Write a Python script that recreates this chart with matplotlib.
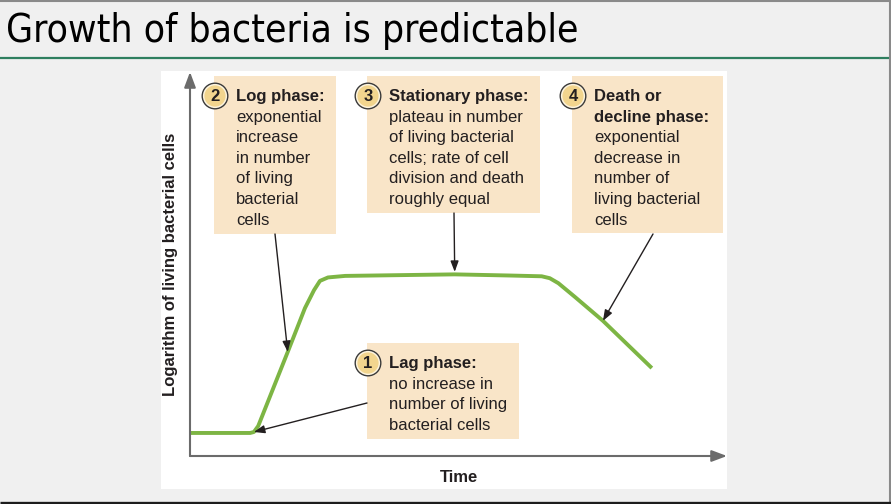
import matplotlib
matplotlib.use("Agg")
import matplotlib.pyplot as plt
from matplotlib.patches import Rectangle, Circle
from matplotlib import font_manager as fm

# ---------------- data ----------------
time = [0, 1.12, 1.19, 1.27, 1.82, 2.14, 2.31, 2.42, 2.57, 2.89, 3.91, 4.93,
        5.96, 6.55, 6.70, 6.86, 7.17, 7.69, 8.60]
log_cells = [0.60, 0.60, 0.625, 0.78, 2.71, 3.85, 4.32, 4.56, 4.65, 4.69, 4.71,
             4.73, 4.70, 4.68, 4.63, 4.50, 4.14, 3.52, 2.29]

title = "Growth of bacteria is predictable"
x_label = "Time"
y_label = "Logarithm of living bacterial cells"

phase_numbers = ["1", "2", "3", "4"]
phase_titles = [["Lag phase:"], ["Log phase:"], ["Stationary phase:"],
                ["Death or", "decline phase:"]]
phase_texts = [
    ["no increase in", "number of living", "bacterial cells"],
    ["exponential", "increase", "in number", "of living", "bacterial", "cells"],
    ["plateau in number", "of living bacterial", "cells; rate of cell",
     "division and death", "roughly equal"],
    ["exponential", "decrease in", "number of", "living bacterial", "cells"],
]
phase_point = [2, 4, 11, 17]   # curve point each phase arrow points to

# ---------------- layout (pixels) ----------------
W, H = 891, 504
box_rects = [(367, 343, 519, 439), (214, 76, 336, 234),
             (367, 76, 540, 213), (572, 76, 723, 233)]
first_line_y = [362, 95, 95, 95]
text_x_off = 22
line_step = 20.6
arrow_tails = [(367, 403), (275, 234), (454, 213), (653, 234)]
arrow_shrink = [0, 0, 1.8, 0]

BG = "#f0f0f0"
BOX = "#f9e5c8"
GREEN = "#7db544"
AXIS = "#6b6b6b"
INK = "#231f20"

fig = plt.figure(figsize=(W / 100, H / 100), dpi=100, facecolor=BG)

# background / overlay axes in pixel coordinates
bg = fig.add_axes([0, 0, 1, 1], zorder=0)
bg.set_xlim(0, W)
bg.set_ylim(H, 0)
bg.axis("off")
bg.set_facecolor(BG)

# borders and divider
bg.plot([0, W], [0.8, 0.8], color="#8a8a8a", lw=1.5, solid_capstyle="butt")
bg.plot([889.8, 889.8], [0, H], color="#8a8a8a", lw=1.5, solid_capstyle="butt")
bg.plot([0, W], [502.5, 502.5], color="#1c1c1c", lw=2.4, solid_capstyle="butt")
bg.plot([0, 889], [58.3, 58.3], color="#2f7f5f", lw=1.6, solid_capstyle="butt")

# title (fit to measured width)
cond = any(f.name == "DejaVu Sans" and "ondensed" in f.fname for f in fm.fontManager.ttflist)
tkw = dict(family="DejaVu Sans")
if cond:
    tkw["fontstretch"] = "condensed"
t = bg.text(6, 42, title, fontsize=28, color="#000000", ha="left", va="baseline", **tkw)
fig.canvas.draw()
bb = t.get_window_extent()
target = 573.0
t.set_fontsize(28 * target / bb.width)

# white panel
bg.add_patch(Rectangle((161, 71), 566, 418, facecolor="white", edgecolor="none"))

# boxes
for i in range(4):
    x0, y0, x1, y1 = box_rects[i]
    bg.add_patch(Rectangle((x0, y0), x1 - x0, y1 - y0, facecolor=BOX, edgecolor="none", zorder=2))
    cy = first_line_y[i]
    bg.add_patch(Circle((x0 + 1, cy + 1), 12.8, facecolor="#fdf4de", edgecolor="#3a3a3a", lw=1.0, zorder=3))
    bg.add_patch(Circle((x0 + 1, cy + 1), 10.6, facecolor="#f2d58e", edgecolor="none", zorder=3))
    bg.text(x0 + 1, cy + 1.5, phase_numbers[i], fontsize=12, fontweight="bold",
            family="Liberation Sans", color=INK, ha="center", va="center", zorder=4)
    lines = [(s, "bold") for s in phase_titles[i]] + [(s, "normal") for s in phase_texts[i]]
    for k, (s, w) in enumerate(lines):
        bg.text(x0 + text_x_off, cy + 6 + k * line_step, s, fontsize=12, fontweight=w,
                family="Liberation Sans", color=INK, ha="left", va="baseline", zorder=4)

# ---------------- chart axes ----------------
ax_left, ax_right, ax_bottom, ax_top = 190, 727, 456, 72
ax = fig.add_axes([ax_left / W, (H - ax_bottom) / H, (ax_right - ax_left) / W,
                   (ax_bottom - ax_top) / H], zorder=1)
ax.patch.set_alpha(0)
ax.set_xlim(0, 10)
ax.set_ylim(0, 10)
for s in ax.spines.values():
    s.set_visible(False)
ax.set_xticks([])
ax.set_yticks([])

ax.plot(time, log_cells, color=GREEN, lw=2.8, solid_joinstyle="round", solid_capstyle="butt", zorder=3)

axis_arrow = dict(arrowstyle="-|>,head_length=0.4,head_width=0.15", color=AXIS, lw=1.5,
                  mutation_scale=23, shrinkA=0, shrinkB=0)
ax.annotate("", xy=(1, 0), xytext=(0, 0), xycoords="axes fraction", arrowprops=axis_arrow)
ax.annotate("", xy=(0, 1), xytext=(0, 0), xycoords="axes fraction", arrowprops=axis_arrow)

ax.text(0.5, -22 / (ax_bottom - ax_top), x_label, transform=ax.transAxes, ha="center", va="center",
        fontsize=12, fontweight="bold", family="Liberation Sans", color=INK)
ax.text(-20 / (ax_right - ax_left), (456 - 264) / (ax_bottom - ax_top), y_label, transform=ax.transAxes,
        rotation=90, ha="center", va="center", fontsize=12, fontweight="bold",
        family="Liberation Sans", color=INK)

for i in range(4):
    j = phase_point[i]
    ax.annotate("", xy=(time[j], log_cells[j]), xycoords="data",
                xytext=arrow_tails[i], textcoords=bg.transData,
                arrowprops=dict(arrowstyle="-|>,head_length=0.4,head_width=0.15", color=INK,
                                lw=1.0, mutation_scale=16, shrinkA=0, shrinkB=arrow_shrink[i]),
                zorder=4)

fig.savefig("out.png", dpi=100, facecolor=BG)
